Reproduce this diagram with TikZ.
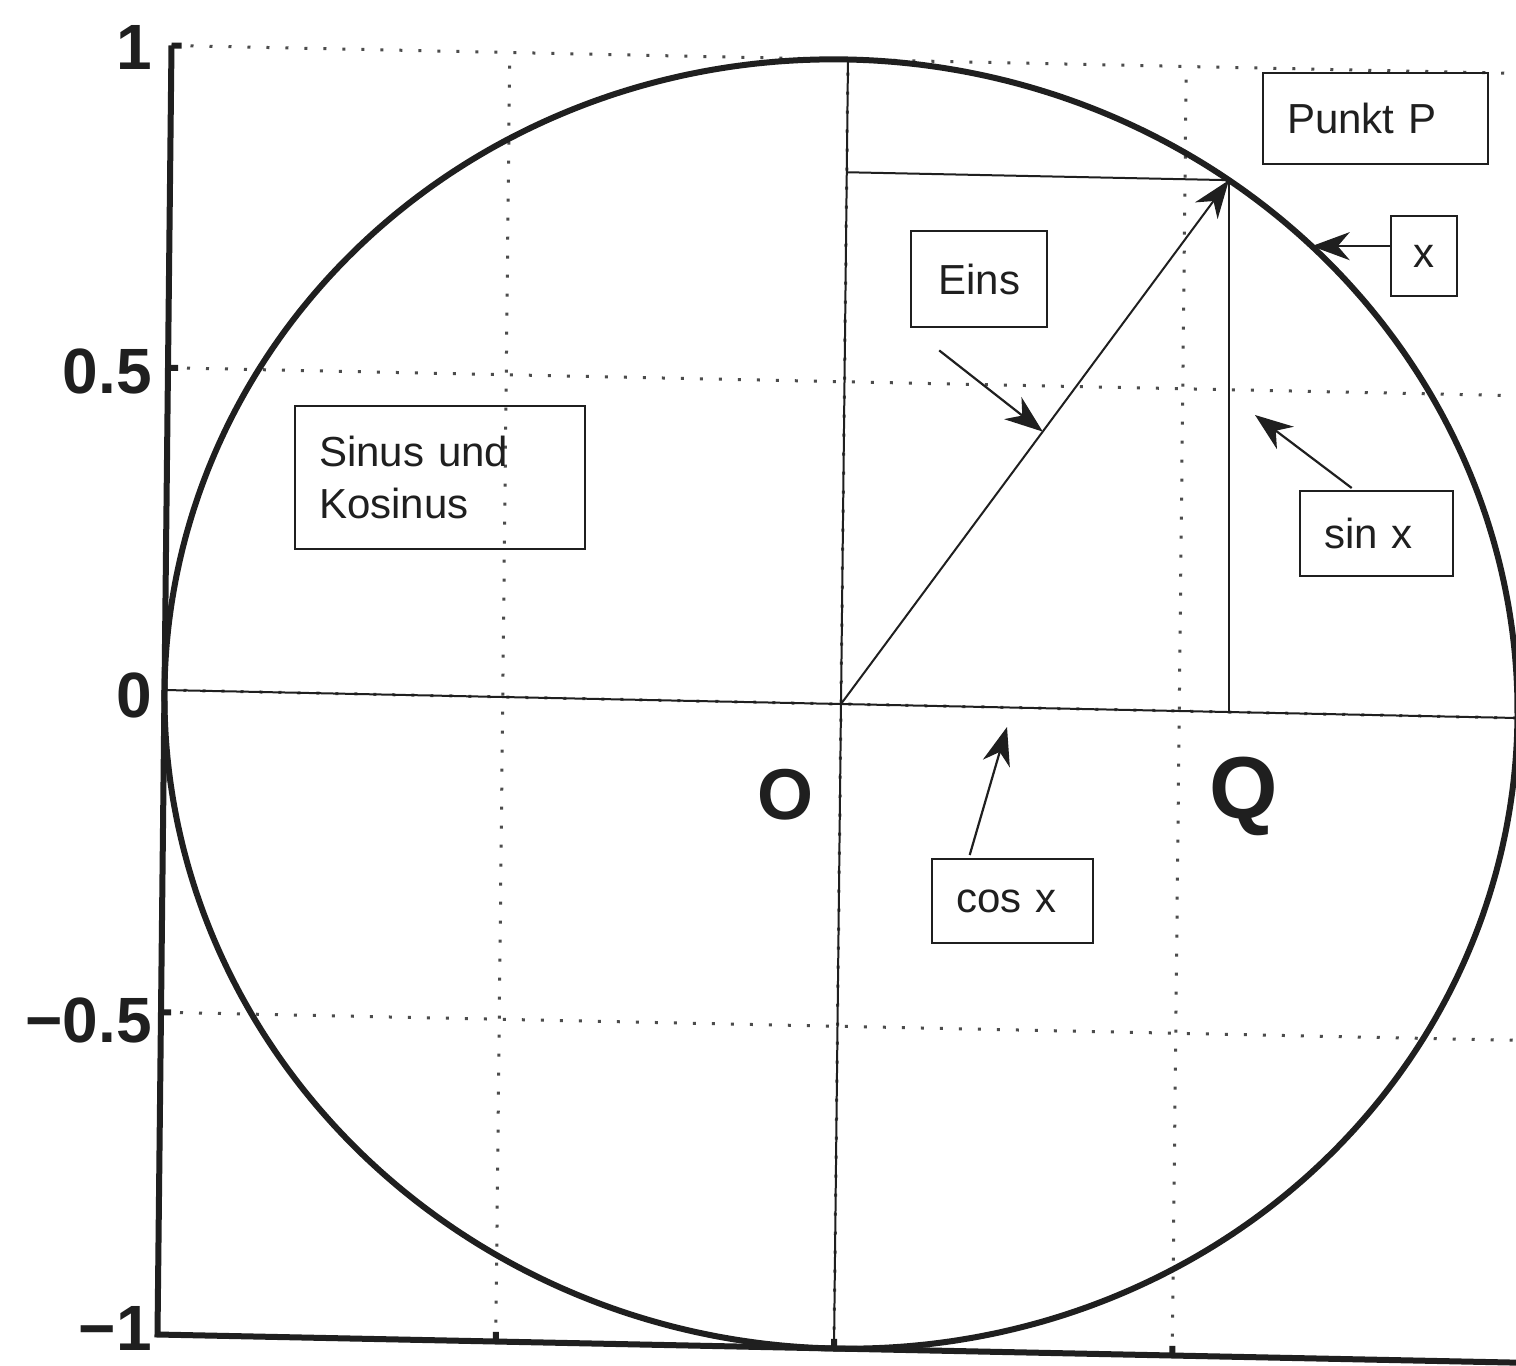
\documentclass[tikz,border=0pt]{standalone}
\usepackage{fontspec}
\setmainfont{Liberation Sans}
\usetikzlibrary{arrows.meta,calc}
\begin{document}
\begin{tikzpicture}[x=1pt,y=-1pt,
  axisline/.style={line width=6pt, black!88},
  thinline/.style={line width=2pt, black!88},
  gridline/.style={line width=3pt, black!70, dash pattern=on 3pt off 16pt},
  curve/.style={line width=6pt, black!88},
  annot/.style={draw=black!88, line width=2.4pt, font=\fontsize{42}{52}\selectfont, text=black!88, inner xsep=24pt, inner ysep=0pt, align=left, anchor=north west},
  pointer/.style={line width=2.2pt, black!88, -{Stealth[length=38pt,width=28pt,inset=12pt]}},
  ticklabel/.style={font=\fontsize{64}{64}\selectfont\bfseries, text=black!88, anchor=east, inner sep=0pt},
  handmark/.style={text=black!88, inner sep=0pt},
]
\fill[white] (0,0) rectangle (1516,1366);
\useasboundingbox (0,0) rectangle (1516,1366);

% ---- plot (affine frame) ----
\begin{scope}[shift={(841,704)}, x={(676.5pt,-14pt)}, y={(7pt,644.5pt)}]
  % grid
  \foreach \g in {-0.5,0,0.5} \draw[gridline] (\g,-1) -- (\g,1);
  \foreach \g in {1,0.5,0,-0.5} \draw[gridline] (-1,\g) -- (1.02,\g);
  % solid zero lines
  \draw[thinline] (0,-1) -- (0,1);
  \draw[thinline] (-1,0) -- (1.02,0);
  % axes
  \draw[axisline] (-1,1) -- (-1,-1) -- (1.02,-1);
  \foreach \t in {1,0.5,-0.5} \draw[axisline] (-1,\t) -- (-0.985,\t);
  \foreach \t in {-0.5,0,0.5} \draw[axisline] (\t,-1) -- (\t,-0.985);
  % unit circle
  \draw[curve] plot[domain=0:360, samples=181, smooth cycle, variable=\a] ({cos(\a)},{sin(\a)});
  % points
  \coordinate (O) at (0,0);
  \coordinate (P) at ({cos(55.6)},{sin(55.6)});
  \coordinate (Py) at (0,{sin(55.6)});
  \coordinate (xtip) at ({cos(46.5)},{sin(46.5)});
\end{scope}
\coordinate (Qy) at (0,712);
\coordinate (Q) at (P |- Qy);
% construction lines
\draw[thinline] (Py) -- (P);
\draw[thinline] (P) -- (Q);
\draw[line width=2pt, black!88, -{Stealth[length=38pt,width=28pt,inset=12pt]}] (O) -- (P);

% ---- tick labels ----
\node[ticklabel] (t1)  at (152,47)   {1};
\node[ticklabel] (t05) at (152,371)  {0.5};
\node[ticklabel] (t0)  at (152,695)  {0};
\node[ticklabel] (tm05) at (152,1020) {−0.5};
\node[ticklabel] (tm1) at (152,1328) {−1};

% ---- handwritten marks ----
\node[handmark, font=\fontsize{72}{72}\selectfont\bfseries] (markO) at (785,795) {O};
\node[handmark, font=\fontsize{88}{88}\selectfont\bfseries] (markQ) at (1244,796) {Q};

% ---- annotation boxes ----
\node[annot, text width=177pt, minimum height=91pt] (punkt) at (1262,72) {Punkt P};
\node[annot, inner xsep=0pt, text width=66pt, align=center, minimum height=80pt] (xbox) at (1390,215) {x};
\node[annot, inner xsep=0pt, text width=136pt, align=center, minimum height=96pt] (eins) at (910,230) {Eins};
\node[annot, text width=105pt, minimum height=85pt] (sinbox) at (1299,490) {sin x};
\node[annot, text width=113pt, minimum height=84pt] (cosbox) at (931,858) {cos x};
\node[annot, text width=242pt, minimum height=143pt] (sinkos) at (294,405) {Sinus und\\Kosinus};

% ---- pointers ----
\coordinate (einstip) at ($(O)!0.52!(P)$);
\coordinate (sintip) at (1255,415);
\coordinate (costip) at (1007,727);
\draw[pointer] ($(eins.south)+(-40,22)$) -- (einstip);
\draw[pointer] (xbox.west |- xtip) -- (xtip);
\draw[pointer] ($(sinbox.north)+(-25,-2)$) -- (sintip);
\draw[pointer] ($(cosbox.north)+(-43,-3)$) -- (costip);
\end{tikzpicture}
\end{document}
